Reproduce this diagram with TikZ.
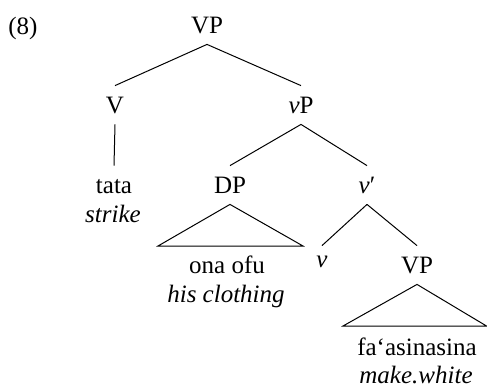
\documentclass[tikz,border=0pt]{standalone}
\usepackage{fontspec}
\setmainfont{Liberation Serif}
\begin{document}
\begin{tikzpicture}[x=0.5pt,y=-0.5pt,
  every node/.style={font=\fontsize{12.5}{15}\selectfont},
  lab/.style={text height=8pt,text depth=0pt,inner xsep=0pt,inner ysep=5.5pt,anchor=base},
  gl/.style={inner sep=0pt,anchor=base},
  edge/.style={line width=0.5pt}]
\useasboundingbox (0,0) rectangle (487,387);
% labels
\node[gl,anchor=base west] (num) at (8,34) {(8)};
\node[lab] (vpA) at (207,33) {VP};
\node[lab] (V) at (115,113) {V};
\node[lab] (vP) at (301,113) {\textit{v}P};
\node[lab] (tata) at (114,193) {tata};
\node[gl] (strike) at (113,222) {\textit{strike}};
\node[lab] (DP) at (230,193) {DP};
\node[lab] (vbar) at (367,193) {\textit{v}′};
\node[lab,text height=5pt] (v) at (322,267) {\textit{v}};
\node[lab] (vpB) at (417,273) {VP};
\node[gl] (ona) at (227,273) {ona ofu};
\node[gl] (his) at (226,302) {\textit{his clothing}};
\node[gl] (fa) at (417,355) {fa‘asinasina};
\node[gl] (make) at (416,383) {\textit{make.white}};
% triangle corners
\coordinate (dpL) at (158,246);
\coordinate (dpR) at (303,246);
\coordinate (vpL) at (343,326);
\coordinate (vpR) at (486.5,326);
% edges
\draw[edge] (vpA.south) -- (V.north);
\draw[edge] (vpA.south) -- (vP.north);
\draw[edge] (V.south) -- (tata.north);
\draw[edge] (vP.south) -- (DP.north);
\draw[edge] (vP.south) -- (vbar.north);
\draw[edge] (vbar.south) -- (v.north);
\draw[edge] (vbar.south) -- (vpB.north);
\draw[edge] (DP.south) -- (dpL) -- (dpR) -- cycle;
\draw[edge] (vpB.south) -- (vpL) -- (vpR) -- cycle;
\end{tikzpicture}
\end{document}
